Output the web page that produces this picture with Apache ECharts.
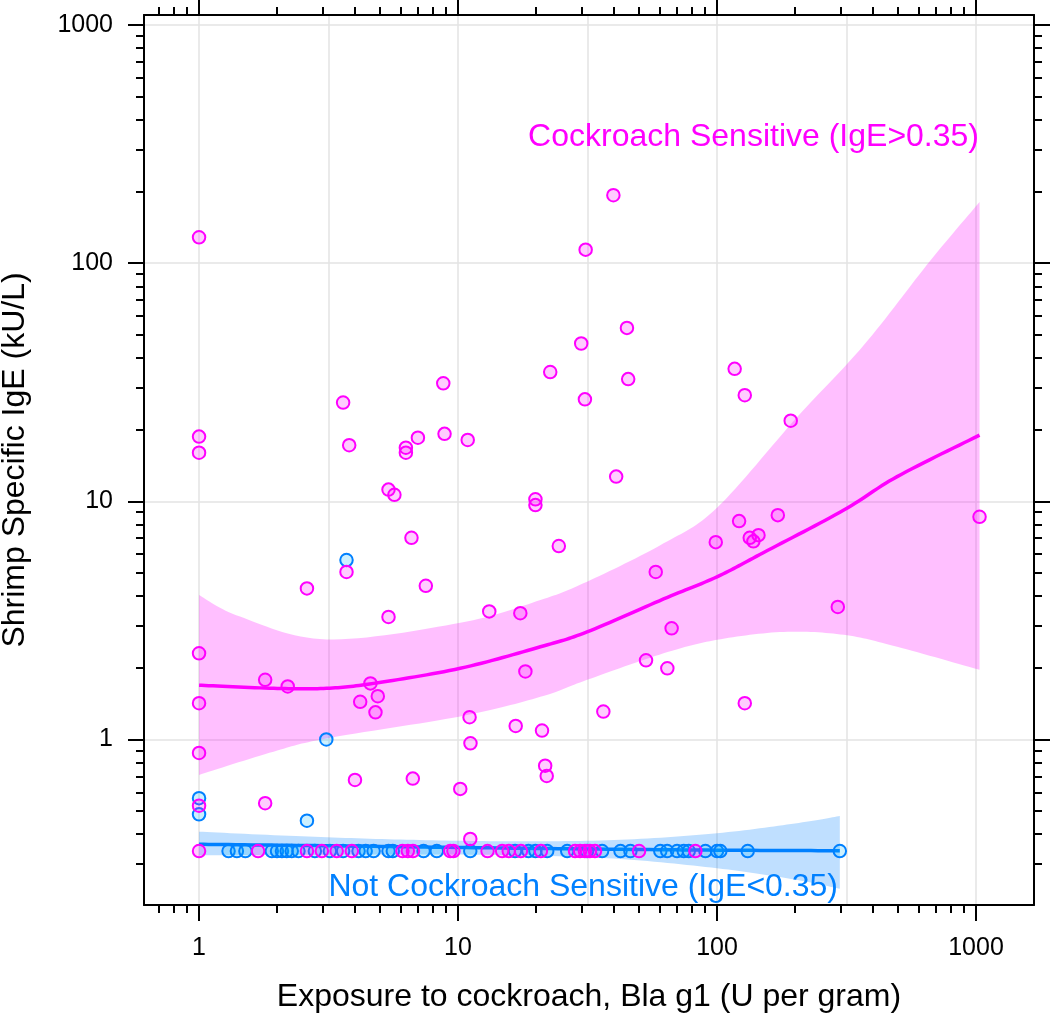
<!DOCTYPE html>
<html>
<head>
<meta charset="utf-8">
<script src="https://cdn.jsdelivr.net/npm/echarts@6/dist/echarts.min.js"></script>
<style>html,body{margin:0;padding:0;background:#fff}#chart{width:1050px;height:1016px}</style>
</head>
<body>
<div id="chart"></div>
<script>
// ---------- axis ticks / labels ----------
const xMajorTicks = [1, 10, 100, 1000];
const xTickLabels = ['1', '10', '100', '1000'];
const xMinorTicks = [0.7, 0.8, 0.9, 2, 3, 4, 5, 6, 7, 8, 9, 20, 30, 40, 50, 60, 70, 80, 90, 200, 300, 400, 500, 600, 700, 800, 900];
const xGridValues = [1, 3.1623, 10, 31.623, 100, 316.23, 1000];
const yMajorTicks = [1, 10, 100, 1000];
const yTickLabels = ['1', '10', '100', '1000'];
const yMinorTicks = [0.3, 0.4, 0.5, 0.6, 0.7, 0.8, 0.9, 2, 3, 4, 5, 6, 7, 8, 9, 20, 30, 40, 50, 60, 70, 80, 90, 200, 300, 400, 500, 600, 700, 800, 900];

// ---------- Cockroach sensitive (IgE>0.35) ----------
const sensX = [1, 39.8, 31.1, 44.9, 29.9, 22.7, 45.4, 30.9, 117, 128, 192.6, 40.8, 3.6, 8.77, 1, 1, 3.8, 6.29, 6.29, 7.0, 8.87, 10.9, 5.39, 5.68, 19.9, 19.9,
  24.5, 121.7, 171.7, 144.6, 133.8, 138.2, 98.9, 1032, 58, 292.7, 66.8, 53.2, 64.3, 128, 36.4, 21.1, 21.7, 22.0,
  3.71, 6.61, 2.61, 7.51, 5.39, 13.2, 17.4, 1, 1.80, 2.20, 4.59, 4.90, 4.19, 4.80, 18.2, 1, 11.08, 16.7, 1, 11.17, 4.0, 6.69, 10.2, 1, 1.80, 11.15,
  1, 1.69, 2.61, 2.98, 3.40, 3.89, 6.1, 6.4, 6.7, 9.33, 9.6, 13.0, 14.8, 15.7, 17.5, 20.9, 28.3, 29.6, 30.9, 32.3, 33.8, 50, 82.5];
const sensY = [128.5, 193, 114, 53.5, 46, 34.9, 32.6, 26.8, 36, 27.9, 21.8, 12.7, 26, 31.3, 18.7, 16, 17.2, 16.8, 16, 18.5, 19.2, 18.1, 11.2, 10.65, 10.2, 9.64,
  6.49, 8.26, 8.75, 7.21, 7.03, 6.79, 6.74, 8.61, 5.05, 3.6, 2.93, 2.15, 1.99, 1.42, 1.31, 1.09, 0.776, 0.703,
  5.05, 7.03, 4.31, 4.42, 3.27, 3.45, 3.39, 2.30, 1.78, 1.67, 1.72, 1.52, 1.44, 1.30, 1.93, 1.42, 1.24, 1.14, 0.878, 0.964, 0.676, 0.685, 0.62, 0.527, 0.54, 0.382,
  0.34, 0.34, 0.34, 0.34, 0.34, 0.34, 0.34, 0.34, 0.34, 0.34, 0.34, 0.34, 0.34, 0.34, 0.34, 0.34, 0.34, 0.34, 0.34, 0.34, 0.34, 0.34, 0.34];
const sensFitX = [1, 1.94, 3.11, 4.72, 10.2, 20.8, 31.5, 62.2, 100, 151.5, 308.8, 496, 1032];
const sensFitY = [1.69, 1.64, 1.64, 1.72, 1.99, 2.45, 2.83, 3.89, 4.82, 6.1, 9.19, 12.7, 18.96];
const sensUpperX = [1, 1.44, 3.11, 10.2, 20.8, 31.5, 62.2, 100, 204, 369, 668, 1032];
const sensUpperY = [4.04, 3.28, 2.63, 3.09, 3.85, 4.60, 6.66, 9.4, 22.6, 45.3, 102.9, 180.6];
const sensLowerX = [1, 1.94, 3.11, 10.2, 20.8, 31.5, 62.2, 100, 181, 308.8, 496, 1032];
const sensLowerY = [0.71, 0.889, 1.01, 1.25, 1.51, 1.78, 2.30, 2.62, 2.83, 2.75, 2.45, 1.96];

// ---------- Not cockroach sensitive (IgE<0.35) ----------
const notX = [3.71, 3.10, 1, 1, 2.61,
  1.30, 1.40, 1.51, 1.91, 2.00, 2.09, 2.18, 2.28, 2.42, 2.80, 3.20, 3.60, 4.13, 4.40, 4.72, 5.39, 5.6, 7.36, 8.28, 11.15,
  16.6, 18.7, 19.9, 22.1, 26.4, 31.5, 36.0, 42.4, 46.3, 60.4, 64.2, 70.1, 74.4, 77.8, 90.2, 100, 103, 131.4, 298];
const notY = [5.67, 1.0, 0.567, 0.485, 0.456,
  0.34, 0.34, 0.34, 0.34, 0.34, 0.34, 0.34, 0.34, 0.34, 0.34, 0.34, 0.34, 0.34, 0.34, 0.34, 0.34, 0.34, 0.34, 0.34, 0.34,
  0.34, 0.34, 0.34, 0.34, 0.34, 0.34, 0.34, 0.34, 0.34, 0.34, 0.34, 0.34, 0.34, 0.34, 0.34, 0.34, 0.34, 0.34, 0.34];
const notFitX = [1, 3, 10, 30, 100, 298];
const notFitY = [0.363, 0.358, 0.352, 0.347, 0.343, 0.341];
const notBandX = [1, 2.5, 6, 15, 40, 100, 200, 298];
const notUpperY = [0.410, 0.392, 0.380, 0.374, 0.378, 0.404, 0.444, 0.477];
const notLowerY = [0.326, 0.328, 0.329, 0.327, 0.316, 0.288, 0.258, 0.236];

// ---------- styling ----------
const FONT = '"Liberation Sans", Arial, Helvetica, sans-serif';
const PINK = '#FF00FF';
const BLUE = '#0080FF';
const X_MIN = 0.613, X_MAX = 1675, Y_MIN = 0.2018, Y_MAX = 1102;

const zip = (a, b) => a.map((v, i) => [v, b[i]]);
function labelFor(values, labels) {
  return function (v) {
    let best = 0;
    for (let i = 1; i < values.length; i++) {
      if (Math.abs(Math.log10(values[i]) - Math.log10(v)) < Math.abs(Math.log10(values[best]) - Math.log10(v))) best = i;
    }
    return labels[best];
  };
}

// Catmull-Rom smoothing of already-projected pixel points (rendering only)
function catmull(p) {
  const out = [];
  const n = p.length;
  for (let i = 0; i < n - 1; i++) {
    const p0 = p[Math.max(i - 1, 0)], p1 = p[i], p2 = p[i + 1], p3 = p[Math.min(i + 2, n - 1)];
    const steps = 16;
    for (let s = 0; s < steps; s++) {
      const t = s / steps, t2 = t * t, t3 = t2 * t;
      const f = (a, b, c, d) => 0.5 * ((2 * b) + (-a + c) * t + (2 * a - 5 * b + 4 * c - d) * t2 + (-a + 3 * b - 3 * c + d) * t3);
      out.push([f(p0[0], p1[0], p2[0], p3[0]), f(p0[1], p1[1], p2[1], p3[1])]);
    }
  }
  out.push(p[n - 1]);
  return out;
}

function bandSeries(ux, uy, lx, ly, color) {
  return {
    type: 'custom', xAxisIndex: 0, yAxisIndex: 0, silent: true,
    data: [[ux[0], uy[0]]],
    renderItem: function (params, api) {
      const top = ux.map((x, i) => api.coord([x, uy[i]]));
      const bot = lx.map((x, i) => api.coord([x, ly[i]]));
      const pts = catmull(top).concat(catmull(bot).reverse());
      return { type: 'polygon', shape: { points: pts }, style: { fill: color } };
    }
  };
}

function lineSeries(xs, ys, color) {
  return {
    type: 'custom', xAxisIndex: 0, yAxisIndex: 0, silent: true,
    data: [[xs[0], ys[0]]],
    renderItem: function (params, api) {
      const pts = catmull(xs.map((x, i) => api.coord([x, ys[i]])));
      return { type: 'polyline', shape: { points: pts }, style: { stroke: color, lineWidth: 3.5, fill: null } };
    }
  };
}

const lineBlack = { color: '#000', width: 2 };
function axisBase(extra) {
  return Object.assign({
    type: 'log', logBase: 10, gridIndex: 0,
    axisLine: { show: false, onZero: false, lineStyle: lineBlack },
    axisTick: { show: false },
    axisLabel: { show: false },
    splitLine: { show: false },
    minorTick: { show: false },
    minorSplitLine: { show: false }
  }, extra);
}
function xAx(extra) { return axisBase(Object.assign({ min: X_MIN, max: X_MAX }, extra)); }
function yAx(extra) { return axisBase(Object.assign({ min: Y_MIN, max: Y_MAX }, extra)); }

const option = {
  animation: false,
  backgroundColor: '#fff',
  grid: { left: 144, right: 16, top: 15, bottom: 111, containLabel: false, outerBoundsMode: 'none' },
  xAxis: [
    xAx({
      position: 'bottom',
      axisLine: { show: true, onZero: false, lineStyle: lineBlack },
      axisTick: { show: true, inside: false, length: 16, customValues: xMajorTicks, lineStyle: lineBlack },
      axisLabel: { show: true, customValues: xMajorTicks, margin: 31, fontSize: 25, color: '#000', fontFamily: FONT, formatter: labelFor(xMajorTicks, xTickLabels) },
      name: 'Exposure to cockroach, Bla g1 (U per gram)',
      nameLocation: 'middle', nameGap: 76,
      nameTextStyle: { fontSize: 32, color: '#000', fontFamily: FONT }
    }),
    xAx({ position: 'bottom', axisTick: { show: true, length: 8, customValues: xMinorTicks, lineStyle: lineBlack } }),
    xAx({
      position: 'top',
      axisLine: { show: true, onZero: false, lineStyle: lineBlack },
      axisTick: { show: true, length: 16, customValues: xMajorTicks, lineStyle: lineBlack }
    }),
    xAx({ position: 'top', axisTick: { show: true, length: 8, customValues: xMinorTicks, lineStyle: lineBlack } }),
    xAx({
      position: 'bottom',
      axisTick: { show: false, customValues: xGridValues },
      axisLabel: { show: false, customValues: xGridValues },
      splitLine: { show: true, lineStyle: { color: '#e3e3e3', width: 1.5 } }
    })
  ],
  yAxis: [
    yAx({
      position: 'left',
      axisLine: { show: true, onZero: false, lineStyle: lineBlack },
      axisTick: { show: true, inside: false, length: 16, customValues: yMajorTicks, lineStyle: lineBlack },
      axisLabel: { show: true, customValues: yMajorTicks, margin: 31, fontSize: 25, color: '#000', fontFamily: FONT, formatter: labelFor(yMajorTicks, yTickLabels) },
      splitLine: { show: true, lineStyle: { color: '#e3e3e3', width: 1.5 } },
      name: 'Shrimp Specific IgE (kU/L)',
      nameLocation: 'middle', nameGap: 113,
      nameTextStyle: { fontSize: 32, color: '#000', fontFamily: FONT }
    }),
    yAx({ position: 'left', axisTick: { show: true, length: 8, customValues: yMinorTicks, lineStyle: lineBlack } }),
    yAx({
      position: 'right',
      axisLine: { show: true, onZero: false, lineStyle: lineBlack },
      axisTick: { show: true, length: 16, customValues: yMajorTicks, lineStyle: lineBlack }
    }),
    yAx({ position: 'right', axisTick: { show: true, length: 8, customValues: yMinorTicks, lineStyle: lineBlack } })
  ],
  series: [
    {
      name: 'Not Cockroach Sensitive', type: 'scatter', xAxisIndex: 0, yAxisIndex: 0,
      data: zip(notX, notY), symbol: 'circle', symbolSize: 12.5,
      itemStyle: { color: 'rgba(0,180,255,0.2)', borderColor: BLUE, borderWidth: 2, opacity: 1 },
      emphasis: { disabled: true }
    },
    bandSeries(notBandX, notUpperY, notBandX, notLowerY, 'rgba(0,128,255,0.25)'),
    lineSeries(notFitX, notFitY, BLUE),
    {
      name: 'Cockroach Sensitive', type: 'scatter', xAxisIndex: 0, yAxisIndex: 0,
      data: zip(sensX, sensY), symbol: 'circle', symbolSize: 12.5,
      itemStyle: { color: 'rgba(255,0,255,0.2)', borderColor: PINK, borderWidth: 2, opacity: 1 },
      emphasis: { disabled: true }
    },
    bandSeries(sensUpperX, sensUpperY, sensLowerX, sensLowerY, 'rgba(255,0,255,0.25)'),
    lineSeries(sensFitX, sensFitY, PINK)
  ],
  graphic: [
    { type: 'text', x: 979, y: 137, z: 100, style: { text: 'Cockroach Sensitive (IgE>0.35)', fill: PINK, font: '32px ' + FONT, align: 'right', verticalAlign: 'middle' } },
    { type: 'text', x: 838, y: 887, z: 100, style: { text: 'Not Cockroach Sensitive (IgE<0.35)', fill: BLUE, font: '32px ' + FONT, align: 'right', verticalAlign: 'middle' } }
  ]
};

const chart = echarts.init(document.getElementById('chart'), null, { renderer: 'canvas' });
chart.setOption(option);
</script>
</body>
</html>
